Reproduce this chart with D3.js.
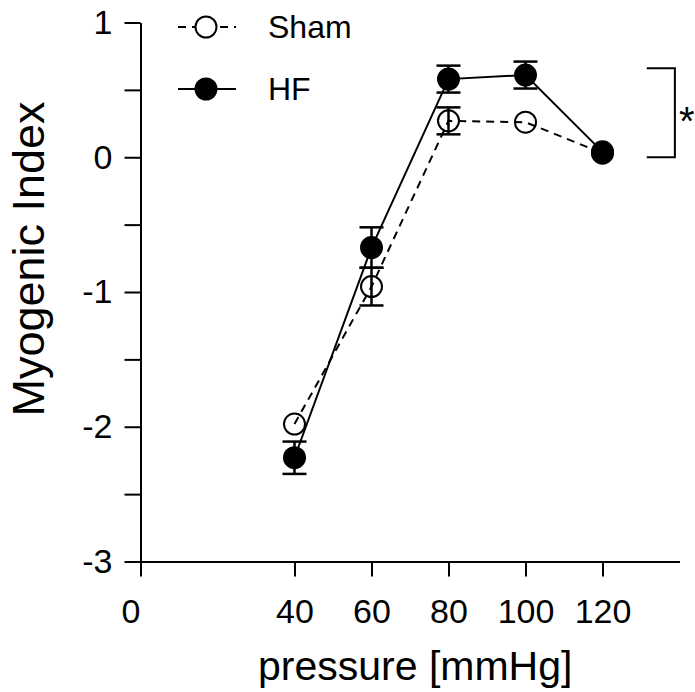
<!DOCTYPE html>
<html>
<head>
<meta charset="utf-8">
<script src="https://cdn.jsdelivr.net/npm/d3@7"></script>
<style>
  body { margin: 0; background: #fff; }
  svg { display: block; font-family: "Liberation Sans", Arial, sans-serif; }
</style>
</head>
<body>
<svg width="695" height="692"></svg>
<script>
// pressure steps (mmHg)
var pressure = [40, 60, 80, 100, 120];
// myogenic index, mean and SEM
var shamMean = [-1.98, -0.96, 0.27, 0.26, 0.03];
var shamErr  = [0, 0.14, 0.10, 0, 0];
var hfMean   = [-2.23, -0.67, 0.58, 0.61, 0.04];
var hfErr    = [0.12, 0.15, 0.10, 0.10, 0];

var xTicks = [0, 40, 60, 80, 100, 120];
var yTicks = [-3, -2.5, -2, -1.5, -1, -0.5, 0, 0.5, 1];
var sigRange = [0, 0.66];   // bracket for the *
var sigX = [131.5, 138.8];

var svg = d3.select("svg");

var x = d3.scaleLinear().domain([0, 140]).range([140.5, 679.5]);
var y = d3.scaleLinear().domain([-3, 1]).range([561.5, 22.5]);

/* axes */
var yAxis = svg.append("g")
  .attr("transform", "translate(" + x(0) + ",0)")
  .call(d3.axisLeft(y).tickValues(yTicks).tickSize(16).tickSizeOuter(0).tickPadding(12)
    .tickFormat(function(d) { return Number.isInteger(d) ? d : ""; }));

var xAxis = svg.append("g")
  .attr("transform", "translate(0," + y(-3) + ")")
  .call(d3.axisBottom(x).tickValues(xTicks).tickSize(15).tickSizeOuter(0).tickPadding(22)
    .tickFormat(d3.format("d")));

svg.selectAll(".domain, .tick line").attr("stroke", "#000").attr("stroke-width", 2);
svg.selectAll(".tick text").attr("font-size", 34).attr("fill", "#000")
  .style("font-family", "Liberation Sans, Arial, sans-serif");
// the 0 label sits a bit left of its tick in the original
xAxis.selectAll(".tick text").filter(function(d) { return d === 0; }).attr("dx", -10);

/* axis titles */
svg.append("text")
  .attr("transform", "translate(44," + 259 + ") rotate(-90)")
  .attr("text-anchor", "middle")
  .attr("font-size", 45)
  .text("Myogenic Index");

svg.append("text")
  .attr("x", 258).attr("y", 680)
  .attr("font-size", 41)
  .text("pressure [mmHg]");

/* lines */
var line = d3.line()
  .x(function(d, i) { return x(pressure[i]); })
  .y(function(d) { return y(d); });

svg.append("path").datum(shamMean)
  .attr("d", line).attr("fill", "none")
  .attr("stroke", "#000").attr("stroke-width", 2).attr("stroke-dasharray", "8,6");

svg.append("path").datum(hfMean)
  .attr("d", line).attr("fill", "none")
  .attr("stroke", "#000").attr("stroke-width", 2);

/* error bars */
function errorBars(means, errs) {
  var g = svg.append("g").attr("stroke", "#000").attr("stroke-width", 2.5);
  means.forEach(function(m, i) {
    if (!errs[i]) return;
    var cx = x(pressure[i]);
    g.append("line").attr("x1", cx).attr("x2", cx).attr("y1", y(m - errs[i])).attr("y2", y(m + errs[i]));
    [m - errs[i], m + errs[i]].forEach(function(v) {
      g.append("line").attr("x1", cx - 12).attr("x2", cx + 12).attr("y1", y(v)).attr("y2", y(v));
    });
  });
}
errorBars(shamMean, shamErr);
errorBars(hfMean, hfErr);

/* markers */
svg.append("g").selectAll("circle").data(shamMean).enter().append("circle")
  .attr("cx", function(d, i) { return x(pressure[i]); })
  .attr("cy", function(d) { return y(d); })
  .attr("r", 10.5).attr("fill", "none").attr("stroke", "#000").attr("stroke-width", 2);

svg.append("g").selectAll("circle").data(hfMean).enter().append("circle")
  .attr("cx", function(d, i) { return x(pressure[i]); })
  .attr("cy", function(d) { return y(d); })
  .attr("r", 11.5).attr("fill", "#000");

/* legend */
var legend = [
  { name: "Sham", y: 27, dash: "8,6", fill: "none" },
  { name: "HF", y: 89, dash: null, fill: "#000" }
];
legend.forEach(function(l) {
  svg.append("line").attr("x1", 178).attr("x2", 236).attr("y1", l.y).attr("y2", l.y)
    .attr("stroke", "#000").attr("stroke-width", 2).attr("stroke-dasharray", l.dash);
  var c = svg.append("circle").attr("cx", 206).attr("cy", l.y)
    .attr("fill", l.fill === "none" ? "#fff" : "#000");
  if (l.fill === "none") c.attr("r", 10.5).attr("stroke", "#000").attr("stroke-width", 2);
  else c.attr("r", 11.5);
  svg.append("text").attr("x", 268).attr("y", l.y + 11).attr("font-size", 32).text(l.name);
});

/* significance bracket */
svg.append("path")
  .attr("d", "M" + x(sigX[0]) + "," + y(sigRange[1]) + "H" + x(sigX[1]) +
             "V" + y(sigRange[0]) + "H" + x(sigX[0]))
  .attr("fill", "none").attr("stroke", "#000").attr("stroke-width", 2);
svg.append("text").attr("x", x(sigX[1]) + 4).attr("y", y((sigRange[0] + sigRange[1]) / 2) + 22)
  .attr("font-size", 40).text("*");
</script>
</body>
</html>
